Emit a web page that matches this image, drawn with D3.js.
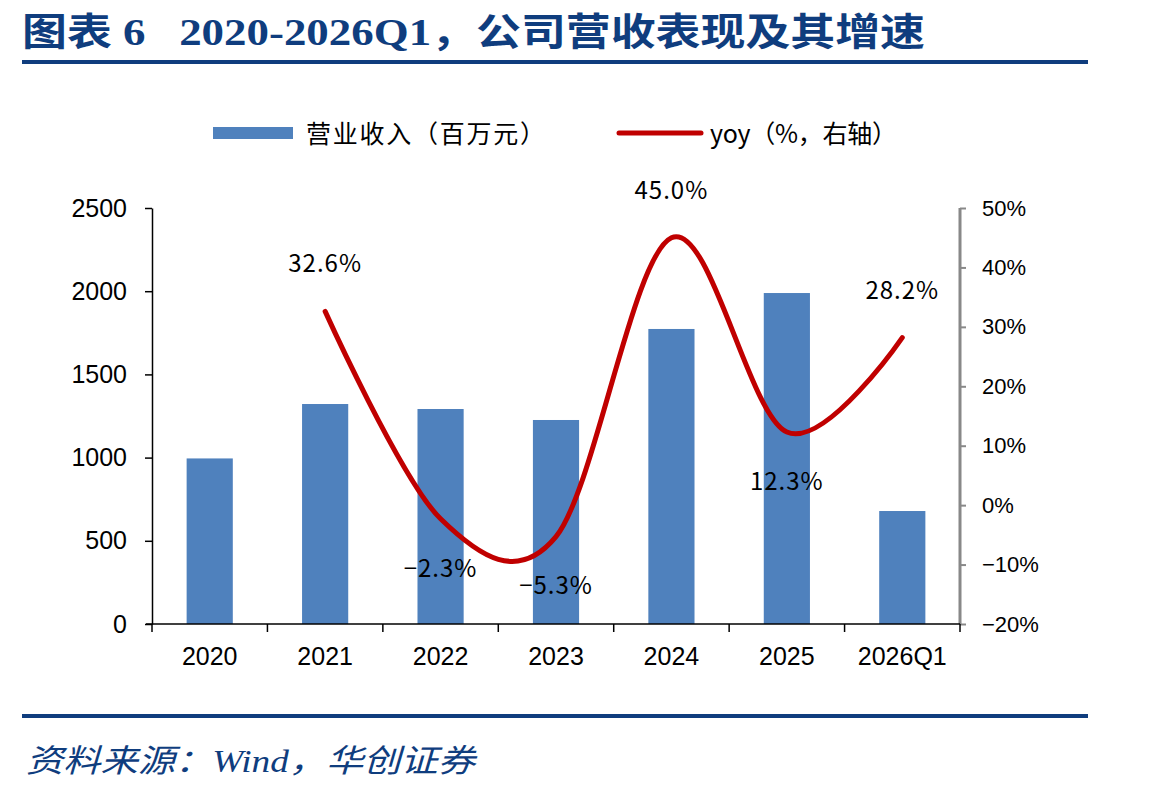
<!DOCTYPE html>
<html lang="zh">
<head>
<meta charset="utf-8">
<title>图表 6 公司营收表现及其增速</title>
<script src="https://cdn.jsdelivr.net/npm/d3@7"></script>
<style>
  body { margin: 0; background: #fff; }
  svg { display: block; }
  .tick text { font-family: 'Liberation Sans', Arial, sans-serif; font-size: 25px; fill: #000; }
</style>
</head>
<body>
<div id="chart"></div>
<script>

/* Data */
/* ==== */

var years = ['2020', '2021', '2022', '2023', '2024', '2025', '2026Q1'];
var revenue = [995, 1322, 1292, 1226, 1773, 1989, 679];  // 百万元
var yoyYears = ['2021', '2022', '2023', '2024', '2025', '2026Q1'];
var yoy = [32.6, -2.3, -5.3, 45.0, 12.3, 28.2];           // %
var leftTicks = [0, 500, 1000, 1500, 2000, 2500];
var rightTicks = [-20, -10, 0, 10, 20, 30, 40, 50];


/* Set up svg */
/* ========== */

var width = 1149,
    height = 792;

var svg = d3.select('#chart').append('svg')
  .attr('width', width)
  .attr('height', height);

var navy = '#0f3d7e';

// Title
svg.append('text')
  .attr('x', 22)
  .attr('y', 45)
  .attr('fill', navy)
  .attr('textLength', 903)
  .attr('lengthAdjust', 'spacingAndGlyphs')
  .style('font-family', "'Liberation Serif', 'Noto Sans CJK SC', serif")
  .style('font-weight', 'bold')
  .style('font-size', '38px')
  .attr('xml:space', 'preserve')
  .text('图表 6   2020-2026Q1，公司营收表现及其增速');

svg.append('rect').attr('x', 22).attr('y', 60).attr('width', 1066).attr('height', 4).attr('fill', navy);
svg.append('rect').attr('x', 22).attr('y', 714).attr('width', 1066).attr('height', 4).attr('fill', navy);

// Source
svg.append('text')
  .attr('x', 26)
  .attr('y', 772)
  .attr('fill', navy)
  .attr('textLength', 449)
  .attr('lengthAdjust', 'spacingAndGlyphs')
  .style('font-family', "'Liberation Serif', 'Noto Sans CJK SC', serif")
  .style('font-style', 'italic')
  .style('font-size', '32px')
  .text('资料来源：Wind，华创证券');


/* Scales */
/* ====== */

var plotLeft = 152, plotRight = 960, plotTop = 208, plotBottom = 624;

var x = d3.scaleBand()
  .domain(years)
  .range([plotLeft, plotRight])
  .paddingInner(0.6)
  .paddingOuter(0.3);

var xBound = d3.scaleBand().domain(years).range([plotLeft, plotRight]);

var yL = d3.scaleLinear().domain([0, 2500]).range([plotBottom, plotTop]);
var yR = d3.scaleLinear().domain([-20, 50]).range([plotBottom, plotTop]);


/* Bars */
/* ==== */

svg.append('g').selectAll('rect')
  .data(years)
  .enter().append('rect')
  .attr('x', function(d) { return x(d); })
  .attr('y', function(d, i) { return yL(revenue[i]); })
  .attr('width', x.bandwidth())
  .attr('height', function(d, i) { return plotBottom - yL(revenue[i]); })
  .attr('fill', '#4f81bd');


/* Axes */
/* ==== */

// Left axis
var gL = svg.append('g')
  .attr('transform', 'translate(' + plotLeft + ',0)')
  .call(d3.axisLeft(yL).tickValues(leftTicks).tickSize(7).tickSizeOuter(0).tickPadding(18)
    .tickFormat(d3.format('d')));
gL.selectAll('line, path').attr('stroke', '#000').attr('stroke-width', 1.5);

// Right axis
var gR = svg.append('g')
  .attr('transform', 'translate(' + plotRight + ',0)')
  .call(d3.axisRight(yR).tickValues(rightTicks).tickSize(0).tickPadding(22)
    .tickFormat(function(d) { return (d < 0 ? '\u2212' + (-d) : d) + '%'; }));
gR.select('path').remove();
gR.append('line').attr('x1', 0).attr('x2', 0).attr('y1', plotTop).attr('y2', plotBottom)
  .attr('stroke', '#888').attr('stroke-width', 3);
gR.selectAll('.tick').append('line')
  .attr('x1', 0).attr('x2', 6)
  .attr('stroke', '#888').attr('stroke-width', 2);
gR.selectAll('.tick text').style('font-size', '22px');

// Bottom axis
var gB = svg.append('g')
  .attr('transform', 'translate(0,' + plotBottom + ')');
gB.append('line').attr('x1', plotLeft - 6).attr('x2', plotRight).attr('stroke', '#000').attr('stroke-width', 1.5);
gB.selectAll('line.tk')
  .data(years.concat(['end']))
  .enter().append('line')
  .attr('class', 'tk')
  .attr('x1', function(d) { return d === 'end' ? plotRight : xBound(d); })
  .attr('x2', function(d) { return d === 'end' ? plotRight : xBound(d); })
  .attr('y1', 0).attr('y2', 8)
  .attr('stroke', '#000').attr('stroke-width', 1.5);
gB.selectAll('text')
  .data(years)
  .enter().append('text')
  .attr('x', function(d) { return x(d) + x.bandwidth() / 2; })
  .attr('y', 41)
  .attr('text-anchor', 'middle')
  .style('font-family', "'Liberation Sans', Arial, sans-serif")
  .style('font-size', '25px')
  .text(function(d) { return d; });


/* YoY line */
/* ======== */

var cx = function(d) { return x(d) + x.bandwidth() / 2; };

var line = d3.line()
  .x(function(d, i) { return cx(yoyYears[i]); })
  .y(function(d) { return yR(d); })
  .curve(d3.curveCardinal.tension(0));

svg.append('path')
  .datum(yoy)
  .attr('d', line)
  .attr('fill', 'none')
  .attr('stroke', '#c00000')
  .attr('stroke-width', 5)
  .attr('stroke-linecap', 'round');

// Data labels
var labelDy = [-39, 58, 57, -39, 58, -39];
svg.append('g').selectAll('text')
  .data(yoy)
  .enter().append('text')
  .attr('x', function(d, i) { return cx(yoyYears[i]); })
  .attr('y', function(d, i) { return yR(d) + labelDy[i]; })
  .attr('text-anchor', 'middle')
  .style('font-family', "'Noto Sans CJK SC', sans-serif")
  .style('font-size', '24px')
  .style('letter-spacing', '1px')
  .text(function(d) { return (d < 0 ? '\u2212' + (-d).toFixed(1) : d.toFixed(1)) + '%'; });


/* Legend */
/* ====== */

var legend = svg.append('g')
  .style('font-family', "'Noto Sans CJK SC', sans-serif")
  .style('font-size', '25px');

legend.append('rect').attr('x', 213).attr('y', 127).attr('width', 80).attr('height', 12).attr('fill', '#4f81bd');
legend.append('text').attr('x', 306).attr('y', 143)
  .attr('textLength', 239).attr('lengthAdjust', 'spacing')
  .text('营业收入（百万元）');

legend.append('line').attr('x1', 619).attr('x2', 701).attr('y1', 133).attr('y2', 133)
  .attr('stroke', '#c00000').attr('stroke-width', 5).attr('stroke-linecap', 'round');
legend.append('text').attr('x', 710).attr('y', 143)
  .attr('textLength', 187).attr('lengthAdjust', 'spacing')
  .text('yoy（%，右轴）');

</script>
</body>
</html>
